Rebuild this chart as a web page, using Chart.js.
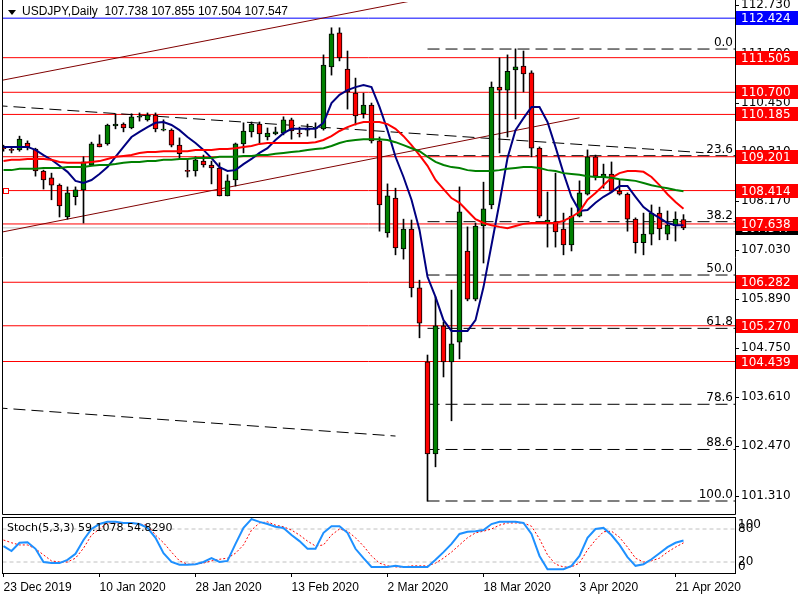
<!DOCTYPE html>
<html>
<head>
<meta charset="utf-8">
<script src="https://cdn.jsdelivr.net/npm/chart.js@4.4.1/dist/chart.umd.min.js"></script>
<style>
  html, body { margin: 0; padding: 0; background: #fff; }
  #wrap { position: relative; width: 798px; height: 598px; overflow: hidden; }
  #mainChart { position: absolute; left: 0; top: 0; }
  #stochChart { position: absolute; left: 0; top: 500px; }
</style>
</head>
<body>
<div id="wrap">
  <canvas id="mainChart" width="798" height="516"></canvas>
  <canvas id="stochChart" width="798" height="98"></canvas>
</div>
<script>
// USDJPY daily bars, 23 Dec 2019 .. 22 Apr 2020 (bar index = position)
const opens = [
  109.40,109.36,109.36,109.52,109.38,108.87,108.71,108.54,107.80,108.27,
  108.43,109.01,109.50,109.50,109.92,109.96,109.87,110.12,110.06,110.17,
  109.82,109.82,109.47,108.87,108.87,109.10,109.01,108.94,108.29,108.66,
  109.50,109.78,109.96,109.66,109.73,109.75,110.06,109.74,109.82,109.86,
  109.85,111.29,112.08,111.24,110.68,110.20,110.40,109.57,107.43,108.24,
  107.06,107.52,106.15,104.43,102.29,105.27,104.43,104.89,107.01,105.89,
  107.59,108.08,110.82,110.75,111.22,111.31,111.15,109.40,107.66,107.68,
  107.52,107.15,107.82,108.33,109.20,108.73,108.80,108.40,108.33,107.75,
  107.20,107.40,107.89,107.40,107.59,107.738
];
const highs = [
  109.47,109.43,109.68,109.57,109.40,108.89,108.82,108.57,108.50,108.50,
  109.20,109.54,109.71,109.96,110.20,109.99,110.20,110.22,110.22,110.22,
  110.06,109.85,109.64,109.15,109.20,109.24,109.10,109.06,108.78,109.52,
  109.99,110.01,110.01,109.87,109.89,110.13,110.10,109.89,109.96,109.99,
  111.57,112.20,112.20,111.66,111.03,110.68,110.45,109.66,108.57,108.47,
  107.75,107.73,106.33,104.59,105.94,105.36,106.10,108.50,107.57,107.66,
  108.61,110.94,111.50,111.57,111.71,111.66,111.20,109.43,108.38,108.82,
  107.89,108.01,108.64,109.36,109.24,109.03,109.08,108.66,108.36,107.78,
  107.89,108.08,108.03,107.94,107.92,107.855
];
const lows = [
  109.33,109.29,109.33,109.36,108.75,108.45,108.20,107.80,107.75,108.08,
  107.66,108.99,109.43,109.47,109.85,109.78,109.85,110.03,110.03,109.78,
  109.80,109.43,109.15,108.73,108.75,108.96,108.57,108.29,108.29,108.52,
  109.29,109.66,109.52,109.59,109.71,109.71,109.61,109.66,109.68,109.64,
  109.82,111.10,111.43,110.31,109.94,110.10,109.52,107.47,107.33,106.92,
  106.82,105.94,104.99,101.19,101.99,104.08,103.06,104.50,105.85,105.85,
  106.73,107.99,109.29,109.66,110.08,110.71,109.20,107.78,107.10,107.10,
  106.92,107.01,107.80,108.31,108.66,108.47,108.38,108.31,107.47,106.96,
  106.92,107.15,107.27,107.27,107.24,107.504
];
const closes = [
  109.39,109.35,109.61,109.43,108.87,108.66,108.54,108.06,108.36,108.43,
  109.08,109.50,109.43,109.94,109.96,109.87,110.13,110.13,110.17,109.85,
  109.83,109.47,109.27,108.86,109.13,109.01,108.94,108.29,108.64,109.50,
  109.80,109.96,109.73,109.75,109.78,110.06,109.80,109.73,109.87,109.87,
  111.33,112.06,111.50,110.71,110.15,110.40,109.57,108.08,108.29,107.08,
  107.52,106.15,105.33,102.29,105.27,104.43,104.85,107.92,105.89,107.59,
  107.99,110.82,110.75,111.19,111.29,111.13,109.40,107.82,107.73,107.45,
  107.15,107.82,108.36,109.20,108.75,108.80,108.40,108.33,107.75,107.20,
  107.40,107.89,107.52,107.61,107.75,107.547
];

// moving averages
const fastMa = [
  109.43,109.43,109.43,109.43,109.36,109.24,109.13,108.99,108.85,108.64,
  108.59,108.66,108.80,108.96,109.20,109.43,109.66,109.78,109.89,109.99,
  110.01,109.94,109.82,109.66,109.52,109.36,109.17,108.96,108.87,108.89,
  109.03,109.15,109.29,109.40,109.59,109.75,109.85,109.85,109.85,109.85,
  109.99,110.45,110.64,110.75,110.82,110.87,110.82,110.36,109.82,109.20,
  108.73,108.20,107.50,106.41,105.94,105.40,105.15,105.15,105.15,105.40,
  106.17,107.15,108.13,109.17,109.82,110.10,110.36,110.36,110.01,109.43,
  108.82,108.27,107.94,107.96,108.13,108.27,108.38,108.52,108.52,108.27,
  108.03,107.89,107.78,107.66,107.61,107.61
];
const midMa = [
  109.10,109.13,109.13,109.15,109.15,109.15,109.13,109.08,109.06,109.06,
  109.06,109.08,109.10,109.15,109.20,109.22,109.24,109.29,109.31,109.31,
  109.33,109.33,109.33,109.33,109.36,109.36,109.36,109.38,109.38,109.40,
  109.43,109.45,109.50,109.52,109.52,109.52,109.52,109.52,109.52,109.54,
  109.59,109.68,109.80,109.89,109.96,110.01,110.01,110.01,109.96,109.85,
  109.68,109.47,109.24,108.99,108.66,108.45,108.24,108.13,107.94,107.75,
  107.66,107.61,107.57,107.54,107.59,107.64,107.66,107.66,107.66,107.66,
  107.71,107.80,107.92,108.20,108.36,108.54,108.71,108.82,108.87,108.87,
  108.85,108.73,108.54,108.33,108.15,107.99
];
const slowMa = [
  108.89,108.89,108.92,108.92,108.92,108.94,108.94,108.94,108.96,108.96,
  108.96,108.99,109.01,109.01,109.03,109.06,109.08,109.08,109.10,109.10,
  109.13,109.13,109.15,109.15,109.17,109.17,109.17,109.20,109.20,109.20,
  109.22,109.22,109.24,109.24,109.27,109.29,109.31,109.33,109.36,109.38,
  109.40,109.45,109.52,109.57,109.59,109.61,109.61,109.61,109.59,109.54,
  109.47,109.40,109.33,109.20,109.08,109.01,108.96,108.94,108.89,108.87,
  108.87,108.87,108.89,108.92,108.94,108.96,108.96,108.94,108.89,108.87,
  108.82,108.80,108.78,108.75,108.73,108.73,108.71,108.68,108.66,108.64,
  108.59,108.54,108.50,108.47,108.43,108.40
];

// Stochastic (5,3,3)
const stochMain = [
  49,40,55,56,44,20,18,18,24,35,
  60,80,89,93,93,91,91,89,82,64,
  36,20,15,15,16,20,27,20,22,53,
  82,98,93,89,84,82,69,58,44,44,
  73,85,85,73,44,27,11,11,11,13,
  11,11,11,11,24,38,53,71,75,76,
  78,89,93,93,93,91,71,31,7,7,
  7,13,31,64,80,82,69,51,29,13,
  16,25,36,47,55,59.1078
];
const stochSignal = [
  60,55,51,51,44,33,22,20,20,27,
  45,69,80,91,91,91,91,89,87,69,
  55,38,22,16,16,18,22,25,27,36,
  51,78,91,93,87,84,78,69,58,49,
  51,69,80,76,64,49,31,18,13,11,
  11,13,13,13,18,27,38,51,64,73,
  76,80,87,91,91,91,85,62,33,16,
  11,11,18,42,60,75,76,65,47,27,
  20,22,27,38,47,54.829
];
const stochLevels = [80, 20];
const stochAxisLabels = [100, 80, 20, 0];

// axes
const priceTicks = [101.310, 102.470, 103.610, 104.750, 105.890, 107.030, 108.170, 109.310, 110.450, 111.590, 112.730];
const dateTickBars = [0, 12, 24, 36, 48, 60, 72, 84];
const dateLabels = ['23 Dec 2019', '10 Jan 2020', '28 Jan 2020', '13 Feb 2020', '2 Mar 2020', '18 Mar 2020', '3 Apr 2020', '21 Apr 2020'];

// chart objects
const redLevels = [111.505, 110.700, 110.185, 109.201, 108.414, 107.638, 106.282, 105.270, 104.439];
const blueLevel = 112.424;
const lastClose = 107.547;
const fibLow = 101.195;
const fibHigh = 111.706;
const fibStartBar = 53;
const fibRatios = [0, 23.6, 38.2, 50.0, 61.8, 78.6, 88.6, 100.0];
const maroonLineA = [[-1, 110.95], [55, 112.97]];
const maroonLineB = [[-1, 107.42], [72, 110.107]];
const dashLineA = [[-1, 110.392], [87.5, 109.295]];
const dashLineB = [[-1, 103.364], [49, 102.706]];

const X_MIN = -0.1875, X_MAX = 91.4375;
const Y_MIN = 100.8928, Y_MAX = 112.7998;
const AXIS_FONT = "'DejaVu Sans', sans-serif";

Chart.defaults.font.family = "'Liberation Sans', Arial, sans-serif";

function segment(pts, color, dash) {
  return {
    type: 'line',
    data: pts.map(p => ({ x: p[0], y: p[1] })),
    borderColor: color,
    borderWidth: 1,
    borderDash: dash || [],
    pointRadius: 0,
    order: 3
  };
}

function maLine(values, color) {
  return {
    type: 'line',
    data: values.map((v, i) => ({ x: i, y: v })),
    borderColor: color,
    borderWidth: 2,
    pointRadius: 0,
    order: 0
  };
}

const fibPrices = fibRatios.map(r => fibHigh - (fibHigh - fibLow) * r / 100);

const mainDatasets = [
  maLine(slowMa, '#008000'),
  maLine(midMa, '#ff0000'),
  maLine(fastMa, '#000080'),
  {
    type: 'bar',
    data: opens.map((o, i) => ({ x: i, y: [o, closes[i]] })),
    backgroundColor: opens.map((o, i) => closes[i] >= o ? '#008000' : '#ff0000'),
    borderColor: '#000',
    borderWidth: 1,
    borderSkipped: false,
    barThickness: 5,
    minBarLength: 1,
    grouped: false,
    order: 1
  },
  {
    type: 'bar',
    data: highs.map((h, i) => ({ x: i, y: [lows[i], h] })),
    backgroundColor: '#000',
    borderWidth: 0,
    barThickness: 1,
    grouped: false,
    order: 2
  },
  segment(maroonLineA, '#800000'),
  segment(maroonLineB, '#800000'),
  segment(dashLineA, '#000', [12, 6]),
  segment(dashLineB, '#000', [12, 6]),
  segment([[-1, blueLevel], [93, blueLevel]], '#0000ff'),
  segment([[-1, lastClose], [93, lastClose]], '#c0c0c0')
];
redLevels.forEach(p => mainDatasets.push(segment([[-1, p], [93, p]], '#ff0000')));
fibPrices.forEach(p => mainDatasets.push(segment([[fibStartBar, p], [93, p]], '#000', [12, 6])));

// text, tags and frame on top of the price chart
const mainOverlay = {
  id: 'mainOverlay',
  afterDraw(chart) {
    const { ctx, chartArea: a, scales: { y } } = chart;
    ctx.save();

    // frame
    ctx.strokeStyle = '#000';
    ctx.lineWidth = 1;
    ctx.beginPath();
    ctx.moveTo(a.left + 0.5, 0);
    ctx.lineTo(a.left + 0.5, a.bottom + 0.5);
    ctx.lineTo(a.right + 0.5, a.bottom + 0.5);
    ctx.lineTo(a.right + 0.5, 0);
    ctx.stroke();

    // fibo level captions
    ctx.font = '12px ' + AXIS_FONT;
    ctx.fillStyle = '#000';
    ctx.textAlign = 'right';
    ctx.textBaseline = 'alphabetic';
    fibRatios.forEach((r, k) => {
      const py = y.getPixelForValue(fibPrices[k]);
      ctx.fillText(r.toFixed(1), a.right - 2, py - 3);
    });

    // price tags on the right axis
    ctx.textAlign = 'left';
    ctx.textBaseline = 'middle';
    const tag = (price, bg) => {
      const py = Math.round(y.getPixelForValue(price));
      ctx.fillStyle = bg;
      ctx.fillRect(a.right + 1, py - 7, 63, 14);
      ctx.fillStyle = '#fff';
      ctx.fillText(price.toFixed(3), a.right + 6, py + 1);
    };
    tag(lastClose, '#000');
    tag(blueLevel, '#0000ff');
    redLevels.forEach(p => tag(p, '#ff0000'));

    // small marker at the left end of one level
    const my = Math.round(y.getPixelForValue(redLevels[4]));
    ctx.fillStyle = '#fff';
    ctx.fillRect(a.left + 1, my - 3, 5, 6);
    ctx.strokeStyle = '#ff0000';
    ctx.strokeRect(a.left + 1.5, my - 2.5, 5, 5);

    // header
    ctx.fillStyle = '#000';
    ctx.beginPath();
    ctx.moveTo(8, 10);
    ctx.lineTo(16, 10);
    ctx.lineTo(12, 15);
    ctx.closePath();
    ctx.fill();
    ctx.font = "12px 'Liberation Sans', Arial, sans-serif";
    ctx.textAlign = 'left';
    ctx.textBaseline = 'middle';
    const last = opens.length - 1;
    ctx.fillText('USDJPY,Daily  ' + [opens[last], highs[last], lows[last], closes[last]].map(v => v.toFixed(3)).join(' '), 22, 12);
    ctx.restore();
  }
};

new Chart(document.getElementById('mainChart'), {
  type: 'bar',
  data: { datasets: mainDatasets },
  options: {
    responsive: false,
    animation: false,
    events: [],
    layout: { padding: { left: 2, top: 2, right: 0, bottom: 2 } },
    plugins: { legend: { display: false }, tooltip: { enabled: false } },
    scales: {
      x: { type: 'linear', display: false, min: X_MIN, max: X_MAX, offset: false, grid: { offset: false } },
      y: {
        type: 'linear',
        position: 'right',
        min: Y_MIN,
        max: Y_MAX,
        beginAtZero: false,
        afterBuildTicks: s => { s.ticks = priceTicks.map(v => ({ value: v })); },
        afterFit: s => { s.width = 63; s.paddingTop = 0; s.paddingBottom = 0; },
        ticks: {
          color: '#000',
          autoSkip: false,
          padding: 2,
          font: { family: AXIS_FONT, size: 12 },
          callback: v => Number(v).toFixed(3)
        },
        grid: { drawOnChartArea: false, drawTicks: true, tickLength: 4, color: '#000' },
        border: { display: false }
      }
    }
  },
  plugins: [mainOverlay]
});

// stochastic sub window
const stochOverlay = {
  id: 'stochOverlay',
  afterDraw(chart) {
    const { ctx, chartArea: a, scales: { y } } = chart;
    ctx.save();
    ctx.strokeStyle = '#000';
    ctx.lineWidth = 1;
    ctx.strokeRect(a.left + 0.5, a.top - 0.5, a.right - a.left, a.bottom - a.top + 1);

    ctx.fillStyle = '#000';
    ctx.font = '11px ' + AXIS_FONT;
    ctx.textAlign = 'left';
    ctx.textBaseline = 'middle';
    const n = stochMain.length - 1;
    ctx.fillText('Stoch(5,3,3) ' + stochMain[n].toFixed(4) + ' ' + stochSignal[n].toFixed(4), 7, a.top + 10);

    ctx.font = '12px ' + AXIS_FONT;
    stochAxisLabels.forEach(v => {
      let py = y.getPixelForValue(v);
      py = Math.min(Math.max(py, a.top + 7), a.bottom - 6);
      ctx.fillText(String(v), a.right + 3, py);
    });
    ctx.restore();
  }
};

new Chart(document.getElementById('stochChart'), {
  type: 'line',
  data: {
    datasets: [
      { data: stochMain.map((v, i) => ({ x: i, y: v })), borderColor: '#1e90ff', borderWidth: 2, pointRadius: 0, order: 0 },
      { data: stochSignal.map((v, i) => ({ x: i, y: v })), borderColor: '#ff0000', borderWidth: 1, borderDash: [2, 2], pointRadius: 0, order: 1 },
      ...stochLevels.map(l => ({ data: [{ x: -1, y: l }, { x: 93, y: l }], borderColor: '#c0c0c0', borderWidth: 1, borderDash: [4, 3], pointRadius: 0, order: 2 }))
    ]
  },
  options: {
    responsive: false,
    animation: false,
    events: [],
    layout: { padding: { left: 2, top: 18, right: 0, bottom: 0 } },
    plugins: { legend: { display: false }, tooltip: { enabled: false } },
    scales: {
      x: {
        type: 'linear',
        min: X_MIN,
        max: X_MAX,
        afterBuildTicks: s => { s.ticks = dateTickBars.map(v => ({ value: v })); },
        afterFit: s => { s.height = 25; s.paddingLeft = 0; s.paddingRight = 0; },
        ticks: {
          align: 'start',
          maxRotation: 0,
          autoSkip: false,
          padding: 3,
          color: '#000',
          font: { size: 12 },
          callback: (v, i) => dateLabels[i]
        },
        grid: { drawOnChartArea: false, drawTicks: true, tickLength: 4, color: '#000' },
        border: { display: false }
      },
      y: {
        type: 'linear',
        position: 'right',
        min: 0,
        max: 100,
        afterFit: s => { s.width = 63; s.paddingTop = 0; s.paddingBottom = 0; },
        ticks: { display: false },
        grid: { display: false },
        border: { display: false }
      }
    }
  },
  plugins: [stochOverlay]
});
</script>
</body>
</html>
